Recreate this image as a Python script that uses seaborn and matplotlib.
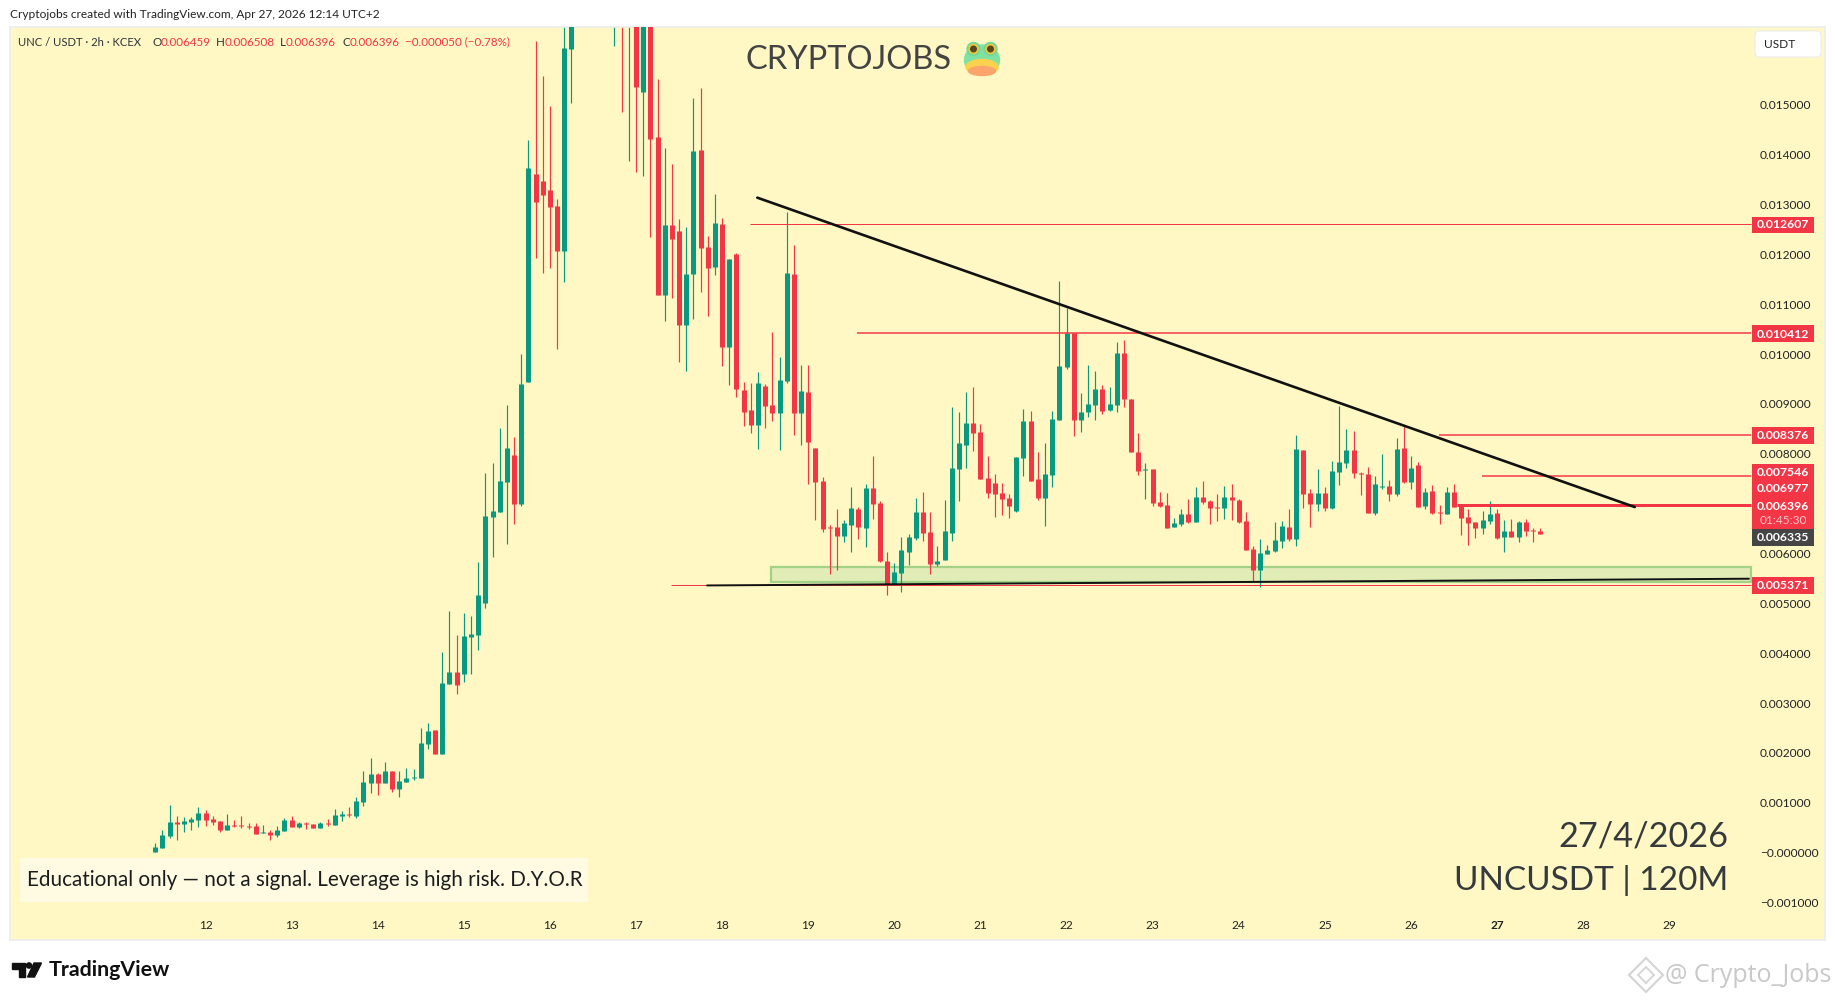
import numpy as np
import pandas as pd
import matplotlib
matplotlib.use("Agg")
import matplotlib.pyplot as plt
from matplotlib.patches import Rectangle, Ellipse, Polygon, FancyBboxPatch, Circle
import seaborn as sns

# OHLC of each 2h candle, in thousandths of a USDT. Candles 58-69 run off the top of the chart
opens = [.021, .094, .335, .616, .576, .616, .656, .796, .676, .636,
         .455, .556, .556, .536, .536, .395, .415, .355, .435, .656,
         .515, .596, .576, .495, .596, .556, .736, .776, .736, 1.017,
         1.398, 1.578, 1.397, 1.638, 1.277, 1.417, 1.497, 1.497, 2.179, 2.46,
         1.978, 3.382, 3.623, 3.583, 4.325, 4.365, 5.006, 6.731, 6.831, 7.433,
         7.974, 6.991, 9.437, 13.608, 13.468, 13.287, 12.966, 12.064, 16.114, 18.3,
         19.6, 18.9, 20.4, 18.9, 17.2, 17.6, 16.6, 17.5, 15.252, 17.3,
         14.35, 11.182, 12.585, 12.465, 10.58, 11.603, 14.089, 12.144, 11.743, 12.605,
         10.139, 12.004, 9.277, 8.876, 8.575, 9.357, 8.976, 8.816, 9.457, 11.6,
         8.816, 9.237, 8.114, 7.452, 6.53, 6.53, 6.349, 6.57, 6.891, 6.51,
         7.312, 7.011, 5.848, 5.387, 5.607, 6.029, 6.309, 6.831, 6.43, 5.788,
         5.868, 6.409, 7.693, 8.174, 8.615, 8.435, 7.512, 7.412, 7.211, 7.111,
         6.85, 7.913, 8.655, 7.492, 7.111, 7.572, 8.675, 9.738, 10.42, 8.675,
         8.836, 8.976, 9.297, 8.876, 8.976, 10.019, 9.096, 8.034, 7.673, 7.693,
         7.031, 6.971, 6.53, 6.59, 6.79, 6.63, 7.131, 7.051, 6.931, 6.911,
         7.131, 7.071, 6.65, 6.089, 5.668, 5.988, 6.049, 6.249, 6.53, 6.289,
         8.074, 7.212, 6.991, 7.212, 6.911, 7.633, 7.813, 8.074, 7.613, 7.593,
         6.811, 7.332, 7.352, 7.192, 8.114, 7.432, 7.773, 6.951, 7.252, 6.831,
         6.791, 7.232, 6.971, 6.73, 6.63, 6.51, 6.65, 6.811, 6.329, 6.45,
         6.329, 6.63, 6.47, 6.459]
highs = [.188, .455, .957, .736, .716, .716, .917, .856, .736, .636,
         .776, .656, .736, .596, .596, .556, .455, .536, .696, .736,
         .616, .616, .576, .616, .676, .876, .836, .917, 1.117, 1.638,
         1.899, 1.598, 1.818, 1.638, 1.638, 1.698, 1.678, 2.5, 2.6, 2.46,
         4.024, 4.846, 4.365, 4.806, 4.746, 5.828, 7.613, 7.814, 8.515, 8.977,
         8.335, 9.999, 14.29, 16.275, 15.573, 14.972, 13.107, 17.4, 19.2, 20.1,
         20.8, 21.2, 21.0, 19.5, 18.6, 18.1, 18.0, 18.0, 17.8, 17.6,
         15.513, 14.129, 13.809, 12.706, 12.545, 15.132, 15.332, 12.365, 13.207, 12.726,
         11.904, 12.024, 9.437, 9.417, 9.638, 9.397, 10.44, 9.94, 12.856, 12.18,
         9.78, 9.78, 8.114, 7.532, 6.57, 6.891, 6.67, 7.332, 6.931, 7.392,
         7.954, 7.051, 6.029, 5.808, 6.329, 6.389, 7.111, 7.232, 6.831, 6.149,
         7.071, 8.936, 8.836, 9.237, 9.337, 8.595, 7.954, 7.593, 7.412, 7.191,
         7.933, 8.896, 8.856, 8.034, 8.214, 8.856, 11.462, 10.921, 10.42, 9.217,
         9.778, 9.658, 9.377, 9.337, 10.239, 10.279, 9.096, 8.414, 7.813, 7.693,
         7.231, 7.211, 6.71, 6.891, 7.091, 7.332, 7.452, 7.071, 7.191, 7.352,
         7.392, 7.091, 6.83, 6.149, 6.289, 6.169, 6.63, 6.65, 6.891, 8.375,
         8.074, 7.292, 7.693, 7.332, 7.853, 8.956, 8.495, 8.455, 7.633, 7.733,
         7.553, 7.994, 7.472, 8.315, 8.575, 7.954, 7.833, 7.312, 7.372, 6.971,
         7.332, 7.392, 6.971, 6.891, 6.63, 6.851, 7.051, 6.891, 6.67, 6.69,
         6.65, 6.69, 6.51, 6.508]
lows = [.021, .094, .295, .255, .415, .455, .515, .536, .556, .415,
        .455, .515, .495, .475, .375, .395, .255, .315, .435, .515,
        .495, .475, .495, .495, .536, .556, .636, .716, .696, .937,
        1.197, 1.157, 1.397, 1.216, 1.116, 1.417, 1.457, 1.497, 2.079, 1.978,
        1.978, 3.382, 3.182, 3.422, 3.583, 4.064, 4.906, 5.929, 6.831, 6.189,
        6.59, 6.951, 9.437, 11.924, 11.623, 11.723, 10.099, 11.442, 15.032, 17.6,
        18.0, 18.2, 17.9, 17.2, 16.175, 14.851, 13.869, 13.648, 13.568, 12.345,
        11.182, 10.66, 11.122, 9.838, 9.658, 10.7, 11.242, 10.761, 11.583, 9.758,
        9.377, 9.136, 8.555, 8.415, 8.094, 8.515, 8.655, 8.074, 9.417, 8.375,
        8.174, 7.392, 6.67, 6.43, 5.587, 5.668, 6.229, 6.029, 6.289, 6.129,
        6.69, 5.828, 5.166, 5.387, 5.226, 5.768, 6.269, 6.249, 5.587, 5.748,
        5.868, 6.249, 7.051, 7.713, 8.054, 7.492, 7.111, 6.73, 6.77, 6.71,
        6.83, 7.552, 7.452, 7.071, 6.55, 7.332, 8.675, 9.698, 8.354, 8.435,
        8.735, 8.675, 8.796, 8.856, 8.836, 8.936, 8.034, 7.572, 7.091, 6.951,
        6.931, 6.51, 6.53, 6.55, 6.61, 6.63, 6.991, 6.59, 6.65, 6.69,
        6.67, 6.61, 6.068, 5.427, 5.327, 5.988, 6.029, 6.109, 6.249, 6.149,
        6.911, 6.53, 6.851, 6.851, 6.891, 7.372, 7.713, 7.512, 7.172, 6.811,
        6.77, 7.292, 7.051, 7.151, 7.412, 7.292, 6.931, 6.891, 6.791, 6.59,
        6.791, 6.931, 6.369, 6.169, 6.309, 6.389, 6.59, 6.289, 6.029, 6.329,
        6.229, 6.349, 6.229, 6.396]
closes = [.114, .355, .616, .576, .636, .676, .796, .656, .616, .455,
          .556, .536, .536, .515, .375, .415, .355, .455, .656, .515,
          .596, .576, .495, .596, .576, .756, .776, .756, 1.037, 1.418,
          1.578, 1.398, 1.638, 1.277, 1.437, 1.497, 1.517, 2.199, 2.44, 1.978,
          3.402, 3.623, 3.362, 4.345, 4.385, 5.167, 6.751, 6.851, 7.453, 8.114,
          6.991, 9.398, 13.728, 13.047, 13.187, 12.946, 12.064, 16.135, 18.3, 19.6,
          18.9, 20.4, 18.9, 18.0, 18.0, 16.6, 17.5, 15.353, 17.3, 14.31,
          11.182, 12.585, 12.305, 10.58, 11.603, 14.069, 12.124, 11.723, 12.625, 10.139,
          11.904, 9.297, 8.836, 8.575, 9.417, 8.956, 8.816, 9.478, 11.63, 8.816,
          9.257, 8.234, 7.432, 6.49, 6.51, 6.349, 6.61, 6.911, 6.53, 7.312,
          6.991, 5.848, 5.387, 5.628, 6.069, 6.329, 6.831, 6.409, 5.788, 5.848,
          6.45, 7.713, 8.214, 8.615, 8.415, 7.492, 7.212, 7.192, 7.091, 6.951,
          7.933, 8.655, 7.452, 7.111, 7.592, 8.695, 9.758, 10.42, 8.675, 8.836,
          8.996, 9.297, 8.856, 8.996, 10.019, 9.096, 8.034, 7.653, 7.693, 7.011,
          6.951, 6.51, 6.61, 6.79, 6.63, 7.131, 7.031, 6.911, 6.911, 7.131,
          7.071, 6.63, 6.068, 5.668, 6.008, 6.069, 6.269, 6.55, 6.289, 8.094,
          7.192, 6.991, 7.212, 6.911, 7.653, 7.833, 8.074, 7.613, 7.593, 6.811,
          7.392, 7.352, 7.192, 8.094, 7.432, 7.713, 6.931, 7.232, 6.811, 6.811,
          7.232, 6.931, 6.71, 6.61, 6.51, 6.67, 6.791, 6.309, 6.45, 6.329,
          6.63, 6.45, 6.45, 6.396]

# horizontal levels: price and the candle they start from
level_prices = [12.607, 10.412, 8.376, 7.546, 6.977, 5.371]
level_starts = [82.9, 97.8, 178.9, 184.9, 181.4, 71.9]
level_widths = [1.0, 1.5, 1.5, 1.5, 3.0, 1.0]

# trendlines: (candle, price)
falling_x, falling_y = [83.9, 206.2], [13.135, 6.931]
rising_x, rising_y = [76.9, 222.1], [5.359, 5.494]
zone_x = [85.8, 222.4]
zone_y = [5.421, 5.738]

day_labels = list(range(12, 30))
price_ticks = [-1, 0, 1, 2, 3, 4, 5, 6, 8, 9, 10, 11, 12, 13, 14, 15]

GREEN = "#089981"
RED = "#f23645"
PANEL = "#fff8c4"
DARK = "#2e3238"

sns.set_theme(style="white", rc={"axes.facecolor": PANEL, "figure.facecolor": "white"})
plt.rcParams["font.family"] = ["Lato", "DejaVu Sans"]

n = len(closes)
candle = np.arange(n)
side = np.where(np.array(closes) >= np.array(opens), "up", "down")
first_day = 7  # candle that opens on day 12

wicks = pd.DataFrame({
    "candle": np.repeat(candle, 2),
    "price": np.ravel(np.column_stack([lows, highs])) / 1000,
    "side": np.repeat(side, 2),
})
bodies = pd.DataFrame({
    "candle": np.repeat(candle, 2),
    "price": np.ravel(np.column_stack([opens, closes])) / 1000,
    "side": np.repeat(side, 2),
})
colours = {"up": GREEN, "down": RED}

fig = plt.figure(figsize=(18.35, 10), dpi=100)
ax = fig.add_axes([10 / 1835, 1 - 940 / 1000, 1815 / 1835, 913.5 / 1000])

ax.add_patch(Rectangle((zone_x[0], zone_y[0] / 1000), zone_x[1] - zone_x[0],
                       (zone_y[1] - zone_y[0]) / 1000, facecolor="#e2ecb6",
                       edgecolor="#a2d286", linewidth=1.6, zorder=1))

sns.lineplot(data=wicks, x="candle", y="price", hue="side", units="candle", estimator=None,
             sort=False, palette=colours, legend=False, linewidth=0.85, ax=ax,
             solid_capstyle="butt", zorder=2)
sns.lineplot(data=bodies, x="candle", y="price", hue="side", units="candle", estimator=None,
             sort=False, palette=colours, legend=False, linewidth=3.6, ax=ax,
             solid_capstyle="butt", zorder=3)

for price, start, width in zip(level_prices, level_starts, level_widths):
    ax.plot([start, 222.4], [price / 1000, price / 1000], color=RED, linewidth=width * 0.72,
            solid_capstyle="butt", zorder=4)
ax.plot(falling_x, np.array(falling_y) / 1000, color="#111111", linewidth=1.9, zorder=5)
ax.plot(rising_x, np.array(rising_y) / 1000, color="#111111", linewidth=1.4, zorder=5)

# pixel x = 155.3 + 7.175 * candle, pixel y = 852.7 - 49.87 * thousandths
ax.set_xlim((10 - 155.3) / 7.175, (1825 - 155.3) / 7.175)
ax.set_ylim((852.7 - 940) / 49.87 / 1000, (852.7 - 26.5) / 49.87 / 1000)
ax.set_xlabel("")
ax.set_ylabel("")

ax.set_xticks([first_day + 12 * i for i in range(len(day_labels))])
ax.set_xticklabels([str(d) for d in day_labels])
ax.tick_params(axis="x", length=0, pad=-14.4, labelsize=8.6, labelcolor="#222222")
ax.get_xticklabels()[day_labels.index(27)].set_fontweight("bold")

ax.yaxis.tick_right()
ax.set_yticks([t / 1000 for t in price_ticks])
ax.set_yticklabels(["\u2212%.6f" % abs(t / 1000) if t <= 0 else "%.6f" % (t / 1000) for t in price_ticks])
ax.tick_params(axis="y", length=0, pad=-46.8, labelsize=8.6, labelcolor="#222222")
for spine in ax.spines.values():
    spine.set_color("#ececec")
    spine.set_linewidth(1.2)

# everything around the chart goes on an overlay in pixel coordinates
top = fig.add_axes([0, 0, 1, 1], zorder=10)
top.set_xlim(0, 1835)
top.set_ylim(1000, 0)
top.axis("off")
top.patch.set_alpha(0)

top.text(10, 15, "Cryptojobs created with TradingView.com, Apr 27, 2026 12:14 UTC+2",
         fontsize=8.6, color="#222222", va="center")

top.text(18, 42, "UNC / USDT \u00b7 2h \u00b7 KCEX", fontsize=8.1, color=DARK, va="center")
legend_parts = [(152.6, "O", DARK), (161, "0.006459", RED), (216, "H", DARK), (224.5, "0.006508", RED),
                (280, "L", DARK), (286, "0.006396", RED), (342, "C", DARK), (349.4, "0.006396", RED),
                (404.7, "\u22120.000050 (\u22120.78%)", RED)]
for x, label, colour in legend_parts:
    top.text(x, 42, label, fontsize=8.4, color=colour, va="center")

top.text(745, 60, "CRYPTOJOBS", fontsize=23.5, color="#434343", va="center")

# frog head
top.add_patch(Ellipse((982, 60), 35, 30, color="#7fe2a2"))
for eye in (973.5, 990.5):
    top.add_patch(Circle((eye, 49), 6.5, color="#74d896"))
    top.add_patch(Circle((eye, 49), 4.5, color="#f3c53f"))
    top.add_patch(Circle((eye, 49), 2.8, color="#57471f"))
top.add_patch(Ellipse((982, 67), 32, 15, color="#fbd24e"))
top.add_patch(Ellipse((982, 71), 27, 9, color="#fba56c"))

# USDT button
top.add_patch(FancyBboxPatch((1758, 34), 60, 20, boxstyle="round,pad=3,rounding_size=4",
                             facecolor="white", edgecolor="#ececec", linewidth=0.8))
top.text(1764, 44.5, "USDT", fontsize=8.6, color="#222222", va="center")

# price tags
for y0, y1, colour in [(216.5, 233, RED), (325, 342, RED), (427, 444, RED), (464, 529, RED),
                       (529, 546, "#454545"), (577, 594, RED)]:
    top.add_patch(Rectangle((1752, y0), 62, y1 - y0, facecolor=colour, edgecolor="none"))
tags = [(225, "0.012607"), (334, "0.010412"), (435.5, "0.008376"), (472.5, "0.007546"),
        (489, "0.006977"), (506, "0.006396"), (537.5, "0.006335"), (585.5, "0.005371")]
for y, label in tags:
    top.text(1783, y, label, fontsize=8.8, fontweight="bold", color="white", ha="center", va="center")
top.text(1783, 521, "01:45:30", fontsize=8.6, color="#ffc4cb", ha="center", va="center")

# disclaimer
top.add_patch(Rectangle((20, 858), 568, 44, facecolor="#fffbe2", edgecolor="none"))
top.text(27, 880.5, "Educational only \u2014 not a signal. Leverage is high risk. D.Y.O.R",
         fontsize=14.9, color="#1c1c1c", va="center")

top.text(1728, 836, "27/4/2026", fontsize=24.7, color="#363a3d", ha="right", va="center")
top.text(1728, 880, "UNCUSDT | 120M", fontsize=24, color="#363a3d", ha="right", va="center")

# TradingView logo
top.add_patch(Polygon([(12, 963), (24.5, 963), (24.5, 977), (18.5, 977), (18.5, 968.5), (12, 968.5)], color="#111111"))
top.add_patch(Circle((29, 965.5), 2.6, color="#111111"))
top.add_patch(Polygon([(34, 963), (41.5, 963), (34.5, 977), (27.5, 977)], color="#111111"))
top.text(49, 969.5, "TradingView", fontsize=15.4, fontweight="bold", color="#111111", va="center")

# watermark
for size, lw in [(17, 1.6), (8, 1.4)]:
    top.add_patch(Polygon([(1646, 975 - size), (1646 + size, 975), (1646, 975 + size), (1646 - size, 975)],
                          closed=True, fill=False, edgecolor="#d6d6d6", linewidth=lw))
top.text(1665, 975, "@ Crypto_Jobs", fontsize=18, color="#c9c9c9", va="center", family="Open Sans")

fig.savefig("out.png", dpi=100)
